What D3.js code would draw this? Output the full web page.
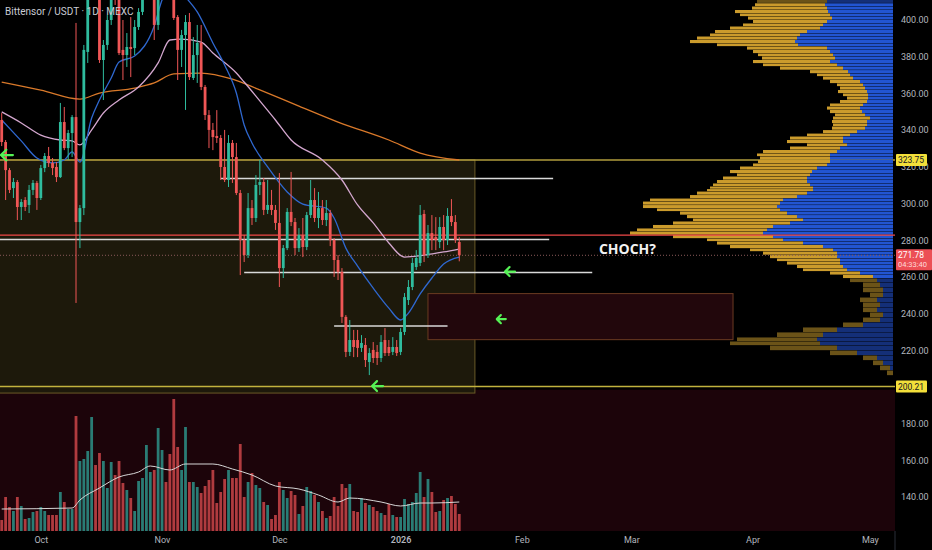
<!DOCTYPE html>
<html>
<head>
<meta charset="utf-8">
<script src="https://cdn.jsdelivr.net/npm/d3@7"></script>
<style>
  html, body { margin: 0; padding: 0; background: #000; overflow: hidden; }
  text { font-family: Roboto, "Noto Sans", sans-serif; }
</style>
</head>
<body>
<div id="chart"></div>
<script>
// daily candles, first one is 2025-09-21
var firstDay = "2025-09-21";
var open = [345.5,333.5,318.2,308.4,311.7,298.1,301.9,299.2,307.4,311.2,
  303.0,319.3,325.9,322.1,319.9,314.4,344.4,330.2,338.4,347.1,
  289.9,297.5,382.6,421.8,443.6,427.3,378.2,386.4,400.0,424.5,
  413.6,383.7,380.9,385.3,384.7,396.2,404.4,416.4,430.0,438.2,
  397.3,427.3,443.6,432.7,416.4,401.6,383.7,391.8,398.9,368.4,
  380.9,387.5,363.5,348.2,340.1,336.8,335.7,319.9,312.8,333.0,
  325.3,305.7,280.1,271.9,297.5,292.1,310.1,311.7,296.5,299.2,
  296.5,289.4,264.8,275.7,295.4,289.9,275.7,282.8,276.3,293.7,
  301.9,292.1,297.5,291.0,294.8,280.1,269.2,262.7,238.2,219.1,
  225.6,225.6,221.3,222.9,213.6,220.2,219.1,215.8,225.6,221.8,
  219.1,221.8,219.1,230.0,247.4,254.5,265.4,267.6,294.3,271.9,
  283.9,281.7,279.0,287.2,280.1,293.2,289.9,279.0];
var high = [349.3,334.6,319.3,313.9,312.8,302.4,303.5,310.1,312.8,312.3,
  321.0,327.5,330.8,324.8,322.6,354.8,352.6,340.1,348.2,398.4,
  299.2,386.4,432.7,454.5,460.0,432.7,389.1,402.7,427.3,432.7,
  419.1,400.0,392.9,401.6,400.0,406.5,421.8,438.2,449.0,443.6,
  435.4,451.8,454.5,438.2,427.3,402.7,394.6,402.7,403.8,390.7,
  397.3,397.3,364.6,350.9,343.9,350.9,337.3,340.1,337.3,334.6,
  333.0,307.4,282.8,305.7,301.9,315.5,323.7,313.9,312.8,307.4,
  299.2,316.6,277.4,297.5,317.2,292.1,286.6,292.1,295.4,312.8,
  308.4,306.3,301.9,301.9,296.5,281.2,271.9,264.8,239.2,236.5,
  231.1,231.1,228.3,226.7,221.2,224.5,222.9,228.3,232.1,225.6,
  227.2,225.6,232.1,251.2,258.3,270.3,274.6,299.2,296.5,288.3,
  293.7,292.6,292.6,293.7,297.5,302.4,293.7,281.7];
var low = [331.3,301.9,305.7,303.0,291.0,291.0,295.9,294.8,304.6,296.5,
  301.9,317.1,319.9,315.5,311.7,313.9,329.1,323.7,325.3,245.8,
  275.7,293.7,376.6,419.1,421.8,376.6,356.4,383.7,397.3,408.2,
  380.9,367.3,374.4,368.9,380.9,394.6,402.7,413.6,427.3,389.1,
  394.6,424.5,430.0,413.6,400.0,367.3,374.4,351.0,367.3,367.3,
  365.7,361.8,345.5,330.2,329.1,333.0,312.8,311.7,309.0,311.2,
  304.6,261.0,268.1,270.3,288.3,289.9,304.6,293.7,294.3,293.7,
  285.6,254.5,259.4,274.6,287.7,271.9,273.6,270.8,274.6,292.1,
  289.9,286.6,288.3,287.7,276.8,260.0,258.3,234.9,216.3,216.9,
  216.3,216.3,219.1,210.9,206.5,213.1,212.0,213.6,216.9,216.9,
  217.4,216.9,217.4,228.3,244.7,252.8,263.8,265.9,268.1,270.3,
  274.6,274.6,275.7,274.6,277.4,287.7,278.5,268.5];
var close = [333.5,318.2,307.4,311.7,298.1,300.8,298.1,307.4,311.2,303.0,
  319.3,325.9,322.1,319.3,314.4,344.4,330.2,338.4,347.1,289.9,
  297.5,383.7,421.8,443.6,427.3,378.2,386.4,400.0,416.4,413.6,
  382.0,380.9,385.3,384.2,396.2,404.4,416.4,430.0,440.9,397.3,
  427.3,443.6,432.7,416.4,401.1,383.7,391.8,398.9,368.9,380.9,
  387.5,363.5,348.2,340.1,336.2,335.7,319.9,312.8,333.0,325.3,
  305.7,280.1,271.9,297.5,292.1,310.1,311.7,296.5,299.2,296.5,
  289.4,264.8,275.7,295.4,289.9,275.7,282.8,276.3,293.7,301.9,
  292.1,297.5,291.0,294.8,280.1,269.2,262.7,238.2,219.1,225.6,
  221.8,221.3,224.0,214.7,218.5,215.8,215.8,224.5,218.5,218.5,
  221.8,218.5,230.0,249.0,254.5,267.6,270.3,293.7,271.9,283.9,
  280.1,280.1,287.2,280.1,293.2,289.9,280.1,271.78];
// volume, thousands
var volume = [110,340,240,200,340,250,120,130,190,200,
  240,200,160,160,160,390,290,220,220,1150,
  700,720,800,1140,660,780,700,430,690,560,
  700,480,410,330,200,500,530,860,590,610,
  1030,810,490,770,1320,840,610,1040,490,490,
  440,380,450,510,610,280,390,520,610,530,
  530,870,340,490,580,460,430,290,260,120,
  160,490,410,330,400,360,170,250,440,400,
  360,290,200,130,150,340,250,470,430,470,
  200,190,330,280,260,240,200,180,160,270,
  160,140,140,320,270,290,380,590,340,520,
  390,190,200,310,330,350,270,170];

// moving averages (candle index, value)
var emaIdx = [0,5,9,13,16,18,20,23,25,28,30,34,39,41,44,47,50,54,57,60,62,64,68,73,77,83,85,88,91,95,99,102,104,107,110,113,117];
var emaVal = [345.5,334.1,324.8,322.1,323.7,328.1,322.6,346.6,356.4,368.4,377.1,380.4,396.7,410.9,419.1,412.5,404.4,387.5,375.5,360.2,342.8,333.0,319.9,306.3,299.7,297.5,292.1,275.7,265.9,253.9,243.0,236.5,240.3,250.7,259.4,267.0,270.8];
var smaIdx = [0,5,10,15,18,20,23,26,30,35,40,43,46,51,54,60,62,66,70,74,82,87,91,95,99,103,108,113,117];
var smaVal = [349.9,343.9,337.3,334.6,334.1,331.9,340.1,349.3,356.4,363.5,376.6,389.1,389.6,388.0,382.0,371.1,366.2,355.9,345.5,334.6,323.7,312.8,299.2,289.4,278.5,270.8,271.9,273.6,275.2];
var ma200Idx = [0,10,20,25,34,39,44,51,59,66,76,86,99,107,117];
var ma200Val = [366.2,361.8,356.9,360.2,362.9,365.7,370.6,371.1,367.8,361.9,353.1,344.4,334.6,327.5,323.7];
var volMaIdx = [0,18,20,25,30,35,38,43,47,54,59,64,70,76,81,86,89,97,102,107,110,117];
var volMaVal = [220,230,310,430,540,590,650,610,670,670,620,560,450,420,360,290,330,290,250,280,280,290];

// visible range volume profile: row price, total volume, buy volume
var vpPrice = [410.0,408.2,406.5,404.4,402.7,401.1,398.9,397.3,395.6,393.5,
  391.8,390.2,388.0,386.4,384.7,382.6,380.9,379.3,377.1,375.5,
  373.8,371.6,370.0,368.4,366.2,364.6,362.9,360.8,359.1,357.5,
  355.3,353.7,352.0,349.9,348.2,346.6,344.4,342.8,341.1,338.9,
  337.3,335.7,333.5,331.9,330.2,328.1,326.4,324.8,322.6,321.0,
  319.3,317.2,315.5,313.9,311.7,310.1,308.4,307.3,305.7,303.5,
  301.9,300.2,298.1,296.5,294.8,292.6,291.0,289.4,287.2,285.6,
  283.9,281.7,280.1,278.5,276.3,274.6,273.0,270.8,269.2,267.6,
  265.4,263.8,262.1,260.0,258.3,255.6,252.8,250.1,247.4,244.7,
  242.0,239.2,236.5,233.8,231.1,228.4,225.6,224.0,221.2,218.5,
  215.8,213.1,210.3,207.6];
var vpTotal = [136,138,141,158,153,145,140,150,163,178,
  183,196,203,176,146,140,135,131,140,130,
  113,83,76,70,63,56,53,55,50,46,
  53,63,66,63,58,60,61,60,61,70,
  86,103,106,86,103,130,136,133,135,140,
  153,163,156,170,176,180,183,186,196,203,
  243,250,250,236,213,206,200,220,240,256,
  263,220,186,176,163,143,130,123,116,106,
  96,90,63,50,43,30,30,23,33,30,
  30,23,30,50,90,116,156,163,123,63,
  30,20,13,6];
var vpBuy = [66,68,66,65,63,61,66,70,73,86,
  93,96,98,95,66,63,60,58,63,56,
  50,45,43,40,33,30,28,26,25,25,
  26,30,33,31,28,23,26,26,28,36,
  43,50,50,46,53,56,63,63,63,66,
  76,81,83,86,86,83,80,80,86,96,
  110,113,116,113,106,96,90,103,120,126,
  130,120,110,90,70,60,56,56,53,53,
  50,46,33,20,16,13,10,10,16,13,
  16,10,13,30,56,70,76,73,56,36,
  16,10,3,0];
var vaLow = 259, vaHigh = 409;

// drawings
var rangeTop = 323.75, rangeBottom = 196.7, rangeFrom = -2, rangeTo = 121;
var obTop = 250.9, obBottom = 225.8, obFrom = 109, obTo = 187;
var supportLevel = 200.21;
var redLevel = 282.8;
var rayPrice = [313.6, 280.4, 262.4, 233.2];
var rayFrom = [56, -2, 62, 85];
var rayTo = [141, 140, 151, 114];
var arrowIdx = [-0.2, 128.7, 126.6, 94.7];
var arrowPrice = [326.4, 262.9, 237.0, 200.5];
var chochIdx = 160, chochPrice = 275.2;

var priceTicks = [140,160,180,220,240,260,280,300,320,340,360,380,400];
var timeTicks = ["2025-10-01","2025-11-01","2025-12-01","2026-01-01","2026-02-01","2026-03-01","2026-04-01","2026-05-01"];
var timeLabels = ["Oct","Nov","Dec","2026","Feb","Mar","Apr","May"];

var fullwidth = 932, fullheight = 550;
var plotRight = 895, paneBottom = 531;

var parse = d3.utcParse("%Y-%m-%d");
var t0 = parse(firstDay);
function dayAt(i) { return new Date(+t0 + i * 864e5); }

var xScale = d3.scaleUtc()
    .domain([t0, parse("2026-05-01")])
    .range([1.7, 869.9]);
var yScale = d3.scaleLinear().domain([200, 400]).range([387, 20]);
var vScale = d3.scaleLinear().domain([0, 1400]).range([paneBottom, 391]);
var vpX = d3.scaleLinear().domain([0, 263]).range([0, 263]);

var svg = d3.select("#chart").append("svg")
    .attr("width", fullwidth)
    .attr("height", fullheight)
    .style("display", "block")
    .style("background", "#000");

svg.append("clipPath").attr("id", "pane")
  .append("rect").attr("x", 0).attr("y", 0).attr("width", plotRight).attr("height", paneBottom);

var g = svg.append("g").attr("clip-path", "url(#pane)");

// dark red zone below support
g.append("rect")
    .attr("x", 0).attr("y", yScale(supportLevel) + 3)
    .attr("width", plotRight).attr("height", paneBottom - yScale(supportLevel) - 3)
    .attr("fill", "#1c040a");

// range box
g.append("rect")
    .attr("x", xScale(dayAt(rangeFrom)))
    .attr("y", yScale(rangeTop))
    .attr("width", xScale(dayAt(rangeTo)) - xScale(dayAt(rangeFrom)))
    .attr("height", yScale(rangeBottom) - yScale(rangeTop))
    .attr("fill", "#1d190b")
    .attr("stroke", "#6a5a27").attr("stroke-width", 1);

// order block box
g.append("rect")
    .attr("x", xScale(dayAt(obFrom)))
    .attr("y", yScale(obTop))
    .attr("width", xScale(dayAt(obTo)) - xScale(dayAt(obFrom)))
    .attr("height", yScale(obBottom) - yScale(obTop))
    .attr("fill", "#22070c")
    .attr("stroke", "#6b3b22").attr("stroke-width", 1);

// volume
var candles = open.map(function(o, i) {
  return {date: dayAt(i), o: o, h: high[i], l: low[i], c: close[i], v: volume[i]};
});

g.selectAll("rect.vol")
    .data(candles)
  .enter().append("rect")
    .attr("class", "vol")
    .attr("x", function(d) { return xScale(d.date) - 1.4; })
    .attr("width", 2.8)
    .attr("y", function(d) { return vScale(d.v); })
    .attr("height", function(d) { return paneBottom - vScale(d.v); })
    .attr("fill", function(d) { return d.c >= d.o ? "#2a7c75" : "#b03b3f"; });

var volLine = d3.line()
    .x(function(d, i) { return xScale(dayAt(volMaIdx[i])); })
    .y(function(d) { return vScale(d); })
    .curve(d3.curveMonotoneX);
g.append("path").attr("d", volLine(volMaVal))
    .attr("fill", "none").attr("stroke", "#d6d6d6").attr("stroke-width", 1);

// level line behind the profile
g.append("line")
    .attr("x1", 0).attr("x2", plotRight)
    .attr("y1", yScale(rangeTop)).attr("y2", yScale(rangeTop))
    .attr("stroke", "#b09d3c").attr("stroke-width", 1.5);

// volume profile
var vpRight = plotRight - 2;
var n = vpPrice.length;
vpPrice.forEach(function(p, k) {
  var top = k === 0 ? p + (p - vpPrice[1]) / 2 : (vpPrice[k - 1] + p) / 2;
  var bot = k === n - 1 ? p - (vpPrice[n - 2] - p) / 2 : (p + vpPrice[k + 1]) / 2;
  var y0 = yScale(top), h = yScale(bot) - y0 - 0.4;
  var inVa = p >= vaLow && p <= vaHigh;
  var wT = vpX(vpTotal[k]), wB = vpX(vpBuy[k]);
  g.append("rect")
      .attr("x", vpRight - wT).attr("y", y0)
      .attr("width", wT - wB).attr("height", h)
      .attr("fill", inVa ? "#cb9b2c" : "#6b5318");
  g.append("rect")
      .attr("x", vpRight - wB).attr("y", y0)
      .attr("width", wB).attr("height", h)
      .attr("fill", inVa ? "#2255d2" : "#142f78");
});

// support line
g.append("line")
    .attr("x1", 0).attr("x2", plotRight)
    .attr("y1", yScale(supportLevel)).attr("y2", yScale(supportLevel))
    .attr("stroke", "#c2b23e").attr("stroke-width", 1.5);

// white rays
rayPrice.forEach(function(p, k) {
  g.append("line")
      .attr("x1", xScale(dayAt(rayFrom[k]))).attr("x2", xScale(dayAt(rayTo[k])))
      .attr("y1", yScale(p)).attr("y2", yScale(p))
      .attr("stroke", "#d9d9d9").attr("stroke-width", 1.5);
});

// red level
g.append("line")
    .attr("x1", 0).attr("x2", plotRight)
    .attr("y1", yScale(redLevel)).attr("y2", yScale(redLevel))
    .attr("stroke", "#f04848").attr("stroke-width", 1.3);

// last price line
var last = close[close.length - 1];
g.append("line")
    .attr("x1", 0).attr("x2", plotRight)
    .attr("y1", yScale(last)).attr("y2", yScale(last))
    .attr("stroke", "#8a5a5a").attr("stroke-width", 1)
    .attr("stroke-dasharray", "1,2");

// moving averages
function maPath(idx, vals, color) {
  var line = d3.line()
      .x(function(d, i) { return xScale(dayAt(idx[i])); })
      .y(function(d) { return yScale(d); })
      .curve(d3.curveMonotoneX);
  g.append("path").attr("d", line(vals))
      .attr("fill", "none").attr("stroke", color).attr("stroke-width", 1.3);
}
maPath(ma200Idx, ma200Val, "#d9792a");
maPath(smaIdx, smaVal, "#d4a7cf");
maPath(emaIdx, emaVal, "#2f68d0");

// candles
var upCol = "#2fbc9e", downCol = "#ef5656";
var cg = g.selectAll("g.candle")
    .data(candles)
  .enter().append("g")
    .attr("class", "candle")
    .attr("fill", function(d) { return d.c >= d.o ? upCol : downCol; });
cg.append("rect")
    .attr("x", function(d) { return xScale(d.date) - 0.5; })
    .attr("width", 1)
    .attr("y", function(d) { return yScale(d.h); })
    .attr("height", function(d) { return yScale(d.l) - yScale(d.h); });
cg.append("rect")
    .attr("x", function(d) { return xScale(d.date) - 1.4; })
    .attr("width", 2.8)
    .attr("y", function(d) { return yScale(Math.max(d.o, d.c)); })
    .attr("height", function(d) { return Math.max(1, Math.abs(yScale(d.o) - yScale(d.c))); });

// arrows
var arrowSize = [12, 10, 9, 11];
arrowIdx.forEach(function(ix, k) {
  var x = xScale(dayAt(ix)), y = yScale(arrowPrice[k]), s = arrowSize[k];
  g.append("path")
      .attr("d", "M" + (x + s) + "," + y + "L" + x + "," + y +
                 "M" + (x + s * 0.45) + "," + (y - s * 0.45) + "L" + x + "," + y +
                 "L" + (x + s * 0.45) + "," + (y + s * 0.45))
      .attr("fill", "none").attr("stroke", "#55f255")
      .attr("stroke-width", 2.2).attr("stroke-linecap", "round").attr("stroke-linejoin", "round");
});

g.append("text")
    .attr("x", xScale(dayAt(chochIdx)))
    .attr("y", yScale(chochPrice))
    .attr("dy", "0.36em")
    .attr("text-anchor", "middle")
    .attr("fill", "#f2f2f2")
    .style("font-family", "'Open Sans', sans-serif")
    .style("font-weight", "700")
    .style("font-size", "14px")
    .text("CHOCH?");

// title
svg.append("text")
    .attr("x", 5).attr("y", 15)
    .attr("fill", "#c9ccd4")
    .style("font-size", "10px")
    .text("Bittensor / USDT · 1D · MEXC");

// price axis
var yAxis = d3.axisRight(yScale)
    .tickValues(priceTicks)
    .tickSize(0)
    .tickPadding(6)
    .tickFormat(d3.format(".2f"));
var ya = svg.append("g").attr("transform", "translate(" + plotRight + ",0)").call(yAxis);
ya.select(".domain").remove();
ya.selectAll("text").attr("fill", "#b2b5be").style("font-size", "9px").style("font-family", "Roboto, sans-serif");

function priceTag(p, txt, bg, fg) {
  var y = yScale(p);
  svg.append("rect").attr("x", plotRight + 1).attr("y", y - 6)
      .attr("width", 31).attr("height", 12).attr("rx", 1).attr("fill", bg);
  svg.append("text").attr("x", plotRight + 3).attr("y", y).attr("dy", "0.35em")
      .attr("fill", fg).style("font-size", "8.5px").text(txt);
}
priceTag(rangeTop, d3.format(".2f")(rangeTop), "#f3df3a", "#131722");
priceTag(supportLevel, d3.format(".2f")(supportLevel), "#f3df3a", "#131722");

var ly = yScale(last);
svg.append("rect").attr("x", plotRight + 1).attr("y", ly - 6)
    .attr("width", 36).attr("height", 21).attr("rx", 1).attr("fill", "#ec4f55");
svg.append("text").attr("x", plotRight + 3).attr("y", ly).attr("dy", "0.35em")
    .attr("fill", "#fff").style("font-size", "8.5px").text(d3.format(".2f")(last));
svg.append("text").attr("x", plotRight + 3).attr("y", ly + 9).attr("dy", "0.35em")
    .attr("fill", "#ffd9d9").style("font-size", "7.5px").text("04:33:40");

// time axis
var xAxis = d3.axisBottom(xScale)
    .tickValues(timeTicks.map(parse))
    .tickSize(0)
    .tickPadding(6)
    .tickFormat(function(d, i) { return timeLabels[i]; });
var xa = svg.append("g").attr("transform", "translate(0," + paneBottom + ")").call(xAxis);
xa.select(".domain").remove();
xa.selectAll("text").attr("fill", "#b2b5be").style("font-size", "9px")
    .style("font-weight", function(d, i) { return timeLabels[i] === "2026" ? "600" : "400"; });

svg.append("line").attr("x1", plotRight).attr("x2", plotRight)
    .attr("y1", paneBottom).attr("y2", fullheight)
    .attr("stroke", "#2a2e39").attr("stroke-width", 1);
</script>
</body>
</html>
